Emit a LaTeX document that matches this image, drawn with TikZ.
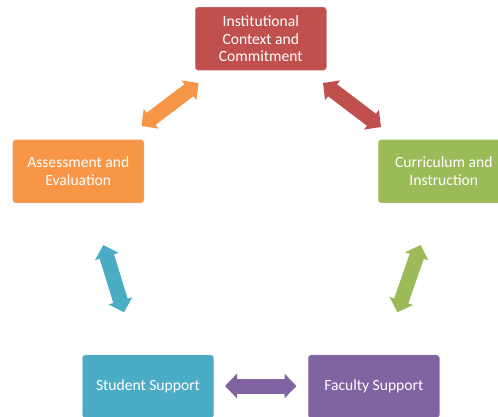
\documentclass[tikz,border=0pt]{standalone}
\usepackage{fontspec}
\setmainfont{Carlito}
\usetikzlibrary{arrows.meta}

\definecolor{redbox}{HTML}{C0504D}
\definecolor{orangebox}{HTML}{F79646}
\definecolor{greenbox}{HTML}{9BBB59}
\definecolor{bluebox}{HTML}{4BACC6}
\definecolor{purplebox}{HTML}{8064A2}

\tikzset{
    part/.style={rounded corners=3pt,minimum width=131pt,minimum height=63pt,
        text=white,align=center,font=\fontsize{15.6}{17.5}\selectfont,inner xsep=2pt,
        fill=#1,draw=#1!75!white,thin},
    link/.style={line width=15pt,draw=#1,{Triangle[width=24pt,length=12pt]}-{Triangle[width=24pt,length=12pt]}}
}

\begin{document}
\begin{tikzpicture}[x=1pt,y=-1pt]
            \useasboundingbox (0,0) rectangle (498,416);
            \node[part=redbox] (inst) at (260.8,38.7) {Institutional\\Context and\\Commitment};
            \node[part=orangebox] (assess) at (78.3,171.3) {Assessment and\\Evaluation};
            \node[part=greenbox] (curric) at (443.8,171.3) {Curriculum and\\Instruction};
            \node[part=bluebox] (student) at (148,386.5) {Student Support};
            \node[part=purplebox] (faculty) at (373.8,386.5) {Faculty Support};
            \coordinate (oa) at (141.5,126);
            \coordinate (ob) at (198.5,83);
            \coordinate (ra) at (323,83);
            \coordinate (rb) at (381,127);
            \coordinate (ga) at (420.7,245);
            \coordinate (gb) at (397.3,312.3);
            \coordinate (pa) at (296.5,386);
            \coordinate (pb) at (225,386);
            \coordinate (ba) at (124,312.3);
            \coordinate (bb) at (103.3,245);
            \foreach \a/\b/\c in {oa/ob/orangebox,ra/rb/redbox,ga/gb/greenbox,pa/pb/purplebox,ba/bb/bluebox}
                \draw[link=\c] (\a) -- (\b);
        \end{tikzpicture}
\end{document}
